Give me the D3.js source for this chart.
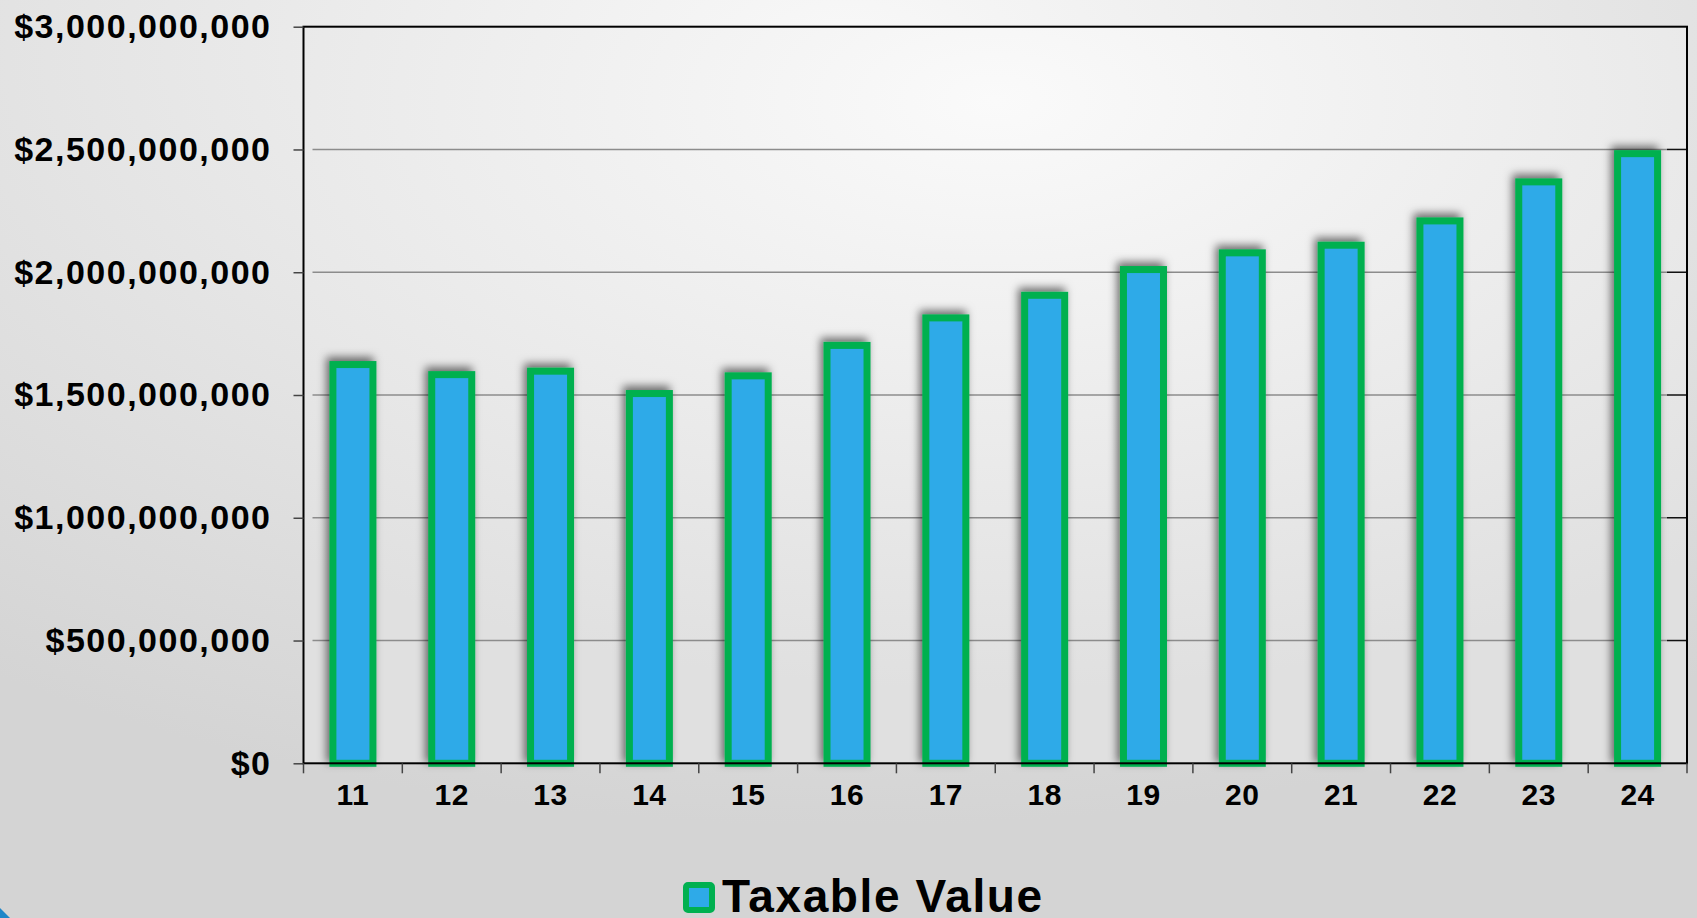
<!DOCTYPE html>
<html>
<head>
<meta charset="utf-8">
<script src="https://cdn.jsdelivr.net/npm/d3@7"></script>
<style>
  html, body { margin: 0; padding: 0; overflow: hidden; }
  text { font-family: "Liberation Sans", Arial, sans-serif; font-weight: bold; fill: #000; }
</style>
</head>
<body>
<div id="chart"></div>
<script>
// Data
var years = ["11", "12", "13", "14", "15", "16", "17", "18", "19", "20", "21", "22", "23", "24"];
var taxableValue = [1624000000, 1583000000, 1597000000, 1506000000, 1578000000, 1702000000, 1814000000,
                    1906000000, 2011000000, 2079000000, 2110000000, 2209000000, 2368000000, 2483000000];
var yTicks = [0, 500000000, 1000000000, 1500000000, 2000000000, 2500000000, 3000000000];
var seriesName = "Taxable Value";

var svgWidth = 1697;
var svgHeight = 918;

var plot = { left: 303.5, right: 1687, top: 26.7, bottom: 763.3 };

var svg = d3.select("#chart")
  .append("svg")
  .attr("width", svgWidth)
  .attr("height", svgHeight);

var defs = svg.append("defs");

// background gradient
var bg = defs.append("radialGradient")
  .attr("id", "bg")
  .attr("cx", "50%").attr("cy", "5%").attr("r", "85%");
bg.append("stop").attr("offset", "0%").attr("stop-color", "#f8f8f8");
bg.append("stop").attr("offset", "100%").attr("stop-color", "#d4d4d4");

var pg = defs.append("radialGradient")
  .attr("id", "plotbg")
  .attr("cx", "50%").attr("cy", "10%").attr("r", "80%");
pg.append("stop").attr("offset", "0%").attr("stop-color", "#fafafa");
pg.append("stop").attr("offset", "100%").attr("stop-color", "#e0e0e0");

var shadow = defs.append("filter")
  .attr("id", "shadow")
  .attr("x", "-50%").attr("y", "-20%").attr("width", "200%").attr("height", "140%");
shadow.append("feDropShadow")
  .attr("dx", -3).attr("dy", -4)
  .attr("stdDeviation", 4)
  .attr("flood-color", "#000")
  .attr("flood-opacity", 0.55);

svg.append("rect")
  .attr("width", svgWidth)
  .attr("height", svgHeight)
  .attr("fill", "url(#bg)");

// little blue corner bottom-left
svg.append("path")
  .attr("d", "M0,908 L10,918 L0,918 Z")
  .attr("fill", "#1f86c8");

svg.append("rect")
  .attr("x", plot.left)
  .attr("y", plot.top)
  .attr("width", plot.right - plot.left)
  .attr("height", plot.bottom - plot.top)
  .attr("fill", "url(#plotbg)");

// Scales
var xScale = d3.scaleBand()
  .domain(years)
  .range([plot.left, plot.right])
  .paddingInner(0.595)
  .paddingOuter(0.2975);

var yScale = d3.scaleLinear()
  .domain([0, 3000000000])
  .range([plot.bottom, plot.top]);

var fmt = function (d) { return "$" + d3.format(",")(d); };

// gridlines
svg.append("g")
  .selectAll("line")
  .data(yTicks.slice(1, -1))
  .enter()
  .append("line")
  .attr("x1", plot.left + 9)
  .attr("x2", plot.right - 20)
  .attr("y1", d => yScale(d))
  .attr("y2", d => yScale(d))
  .attr("stroke", "#8c8c8c")
  .attr("stroke-width", 1.5);

// right side inward ticks
svg.append("g")
  .selectAll("line")
  .data(yTicks.slice(1, -1))
  .enter()
  .append("line")
  .attr("x1", plot.right - 20)
  .attr("x2", plot.right)
  .attr("y1", d => yScale(d))
  .attr("y2", d => yScale(d))
  .attr("stroke", "#111")
  .attr("stroke-width", 1.5);

// bars
svg.append("g")
  .selectAll("rect")
  .data(taxableValue)
  .enter()
  .append("rect")
  .attr("x", (d, i) => xScale(years[i]))
  .attr("y", d => yScale(d))
  .attr("width", xScale.bandwidth())
  .attr("height", d => plot.bottom - yScale(d))
  .attr("fill", "#2eaae8")
  .attr("stroke", "#00b050")
  .attr("stroke-width", 7)
  .attr("filter", "url(#shadow)");

// frame
svg.append("rect")
  .attr("x", plot.left)
  .attr("y", plot.top)
  .attr("width", plot.right - plot.left)
  .attr("height", plot.bottom - plot.top)
  .attr("fill", "none")
  .attr("stroke", "#000")
  .attr("stroke-width", 2);

// left axis
var leftAxis = d3.axisLeft(yScale)
  .tickValues(yTicks)
  .tickSize(10)
  .tickPadding(22)
  .tickFormat(fmt);

var yAxisG = svg.append("g")
  .attr("transform", `translate(${plot.left}, 0)`)
  .call(leftAxis);
yAxisG.select(".domain").remove();
yAxisG.selectAll(".tick line").attr("stroke", "#444").attr("stroke-width", 1.5);
yAxisG.selectAll(".tick text")
  .style("font-size", "34px")
  .style("letter-spacing", "1.5px")
  .style("font-family", "'Liberation Sans', Arial, sans-serif")
  .style("font-weight", "bold")
  .attr("fill", "#000");

// bottom axis
var xTickScale = d3.scaleLinear()
  .domain([0, years.length])
  .range([plot.left, plot.right]);

svg.append("g")
  .selectAll("line")
  .data(d3.range(years.length + 1))
  .enter()
  .append("line")
  .attr("x1", d => xTickScale(d))
  .attr("x2", d => xTickScale(d))
  .attr("y1", plot.bottom)
  .attr("y2", plot.bottom + 10)
  .attr("stroke", "#444")
  .attr("stroke-width", 1.5);

svg.append("g")
  .selectAll("text")
  .data(years)
  .enter()
  .append("text")
  .attr("x", d => xScale(d) + xScale.bandwidth() / 2)
  .attr("y", plot.bottom + 42)
  .attr("text-anchor", "middle")
  .style("font-size", "30px")
  .style("letter-spacing", "0.5px")
  .text(d => d);

// legend
var legend = svg.append("g");
legend.append("rect")
  .attr("x", 686)
  .attr("y", 885)
  .attr("width", 26)
  .attr("height", 25)
  .attr("rx", 2)
  .attr("fill", "#2eaae8")
  .attr("stroke", "#00b050")
  .attr("stroke-width", 6);
legend.append("text")
  .attr("x", 722)
  .attr("y", 912)
  .style("font-size", "46px")
  .style("letter-spacing", "1.6px")
  .text(seriesName);
</script>
</body>
</html>
